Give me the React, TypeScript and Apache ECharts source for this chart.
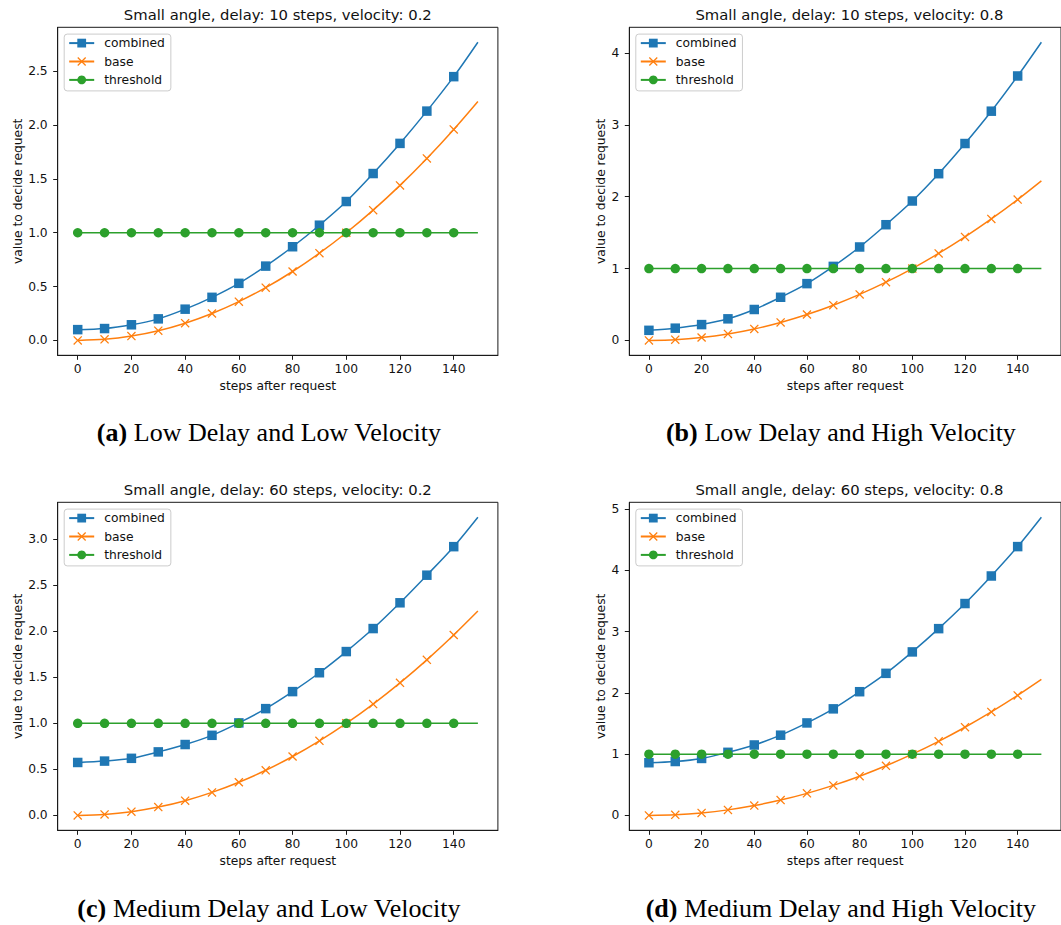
import React, { useEffect, useRef } from "react";
import * as echarts from "echarts";

// ---- data ----
const steps = [0, 10, 20, 30, 40, 50, 60, 70, 80, 90, 100, 110, 120, 130, 140, 149];
const xTicks = [0, 20, 40, 60, 80, 100, 120, 140];

const baseValues = [0, 0.01, 0.04, 0.09, 0.16, 0.25, 0.36, 0.49, 0.64, 0.81, 1.0, 1.21, 1.44, 1.69, 1.96, 2.22];
const thresholdValues = [1, 1, 1, 1, 1, 1, 1, 1, 1, 1, 1, 1, 1, 1, 1, 1];

const combinedA = [0.1, 0.11, 0.145, 0.2, 0.29, 0.4, 0.53, 0.69, 0.87, 1.07, 1.29, 1.55, 1.83, 2.13, 2.45, 2.77];
const combinedB = [0.14, 0.17, 0.22, 0.3, 0.43, 0.6, 0.79, 1.03, 1.3, 1.61, 1.94, 2.32, 2.74, 3.19, 3.68, 4.15];
const combinedC = [0.575, 0.59, 0.62, 0.69, 0.77, 0.87, 1.005, 1.16, 1.345, 1.55, 1.78, 2.03, 2.31, 2.61, 2.92, 3.24];
const combinedD = [0.86, 0.88, 0.93, 1.03, 1.15, 1.31, 1.51, 1.74, 2.02, 2.32, 2.67, 3.05, 3.46, 3.91, 4.39, 4.87];

const yTicksA = [0, 0.5, 1, 1.5, 2, 2.5];
const yTicksB = [0, 1, 2, 3, 4];
const yTicksC = [0, 0.5, 1, 1.5, 2, 2.5, 3];
const yTicksD = [0, 1, 2, 3, 4, 5];

const titles = [
  "Small angle, delay: 10 steps, velocity: 0.2",
  "Small angle, delay: 10 steps, velocity: 0.8",
  "Small angle, delay: 60 steps, velocity: 0.2",
  "Small angle, delay: 60 steps, velocity: 0.8",
];
const captionTags = ["(a)", "(b)", "(c)", "(d)"];
const captionTexts = [
  "Low Delay and Low Velocity",
  "Low Delay and High Velocity",
  "Medium Delay and Low Velocity",
  "Medium Delay and High Velocity",
];
const seriesNames = ["combined", "base", "threshold"];

// ---- styling / layout ----
const COLORS = ["#1f77b4", "#ff7f0e", "#2ca02c"];
const SANS = "DejaVu Sans";
const SERIF = "Liberation Serif";
const X_SYMBOL = "path://M0,1L1,0L5,4L9,0L10,1L6,5L10,9L9,10L5,6L1,10L0,9L4,5Z";
const TICK_FS = 12.3;
const TITLE_FS = 14.8;
const CAP_FS = 26;

const panels = [
  { combined: combinedA, yTicks: yTicksA, dec: 1, left: 57.7, top: 27.3, nameGap: 33 },
  { combined: combinedB, yTicks: yTicksB, dec: 0, left: 629.3, top: 27.3, nameGap: 22 },
  { combined: combinedC, yTicks: yTicksC, dec: 1, left: 57.7, top: 502.3, nameGap: 33 },
  { combined: combinedD, yTicks: yTicksD, dec: 0, left: 629.3, top: 502.3, nameGap: 22 },
];
const PW = 440.2;
const PH = 328;

function toData(values: number[]) {
  const last = steps.length - 1;
  return steps.map((x, i) =>
    i === last ? { value: [x, values[i]], symbol: "none" } : [x, values[i]]
  );
}

function buildOption() {
  const xMinD = Math.min(...steps);
  const xMaxD = Math.max(...steps);
  const xPad = (xMaxD - xMinD) * 0.05;

  const grid: any[] = [];
  const xAxis: any[] = [];
  const yAxis: any[] = [];
  const series: any[] = [];
  const legend: any[] = [];
  const graphic: any[] = [];

  panels.forEach((p, k) => {
    const allY = [...p.combined, ...baseValues, ...thresholdValues];
    const yMinD = Math.min(...allY);
    const yMaxD = Math.max(...allY);
    const yPad = (yMaxD - yMinD) * 0.05;

    grid.push({
      left: p.left,
      top: p.top,
      width: PW,
      height: PH,
      show: true,
      borderColor: "#1a1a1a",
      borderWidth: 1,
      backgroundColor: "transparent",
    });
    xAxis.push({
      type: "value",
      gridIndex: k,
      min: xMinD - xPad,
      max: xMaxD + xPad,
      name: "steps after request",
      nameLocation: "middle",
      nameGap: 25,
      nameTextStyle: { fontFamily: SANS, fontSize: TICK_FS, color: "#111" },
      axisLine: { show: true, onZero: false, lineStyle: { color: "#1a1a1a", width: 1 } },
      axisTick: { show: true, length: 4.5, customValues: xTicks, lineStyle: { color: "#1a1a1a" } },
      axisLabel: {
        customValues: xTicks,
        margin: 8,
        fontFamily: SANS,
        fontSize: TICK_FS,
        color: "#111",
        formatter: (v: number) => String(v),
      },
      splitLine: { show: false },
    });
    yAxis.push({
      type: "value",
      gridIndex: k,
      min: yMinD - yPad,
      max: yMaxD + yPad,
      name: "value to decide request",
      nameLocation: "middle",
      nameGap: p.nameGap,
      nameRotate: 90,
      nameTextStyle: { fontFamily: SANS, fontSize: TICK_FS, color: "#111" },
      axisLine: { show: true, onZero: false, lineStyle: { color: "#1a1a1a", width: 1 } },
      axisTick: { show: true, length: 4.5, customValues: p.yTicks, lineStyle: { color: "#1a1a1a" } },
      axisLabel: {
        customValues: p.yTicks,
        margin: 10,
        fontFamily: SANS,
        fontSize: TICK_FS,
        color: "#111",
        formatter: (v: number) => v.toFixed(p.dec),
      },
      splitLine: { show: false },
    });

    const common = {
      type: "line",
      xAxisIndex: k,
      yAxisIndex: k,
      smooth: 0.3,
      showSymbol: true,
      showAllSymbol: true,
      symbolSize: 9.5,
      clip: false,
    };
    series.push({
      ...common,
      name: seriesNames[0],
      symbol: "rect",
      data: toData(p.combined),
      lineStyle: { color: COLORS[0], width: 1.5 },
      itemStyle: { color: COLORS[0], borderWidth: 0 },
    });
    series.push({
      ...common,
      name: seriesNames[1],
      symbol: X_SYMBOL,
      symbolSize: 9,
      data: toData(baseValues),
      lineStyle: { color: COLORS[1], width: 1.5 },
      itemStyle: { color: COLORS[1], borderWidth: 0 },
    });
    series.push({
      ...common,
      name: seriesNames[2],
      symbol: "circle",
      smooth: false,
      data: toData(thresholdValues),
      lineStyle: { color: COLORS[2], width: 1.5 },
      itemStyle: { color: COLORS[2], borderWidth: 0 },
    });

    legend.push({
      data: seriesNames,
      orient: "vertical",
      left: p.left + 6.5,
      top: p.top + 6.8,
      itemWidth: 25,
      itemHeight: 11,
      itemGap: 6.4,
      padding: [3, 6, 5, 4],
      borderColor: "#cccccc",
      borderWidth: 1,
      borderRadius: 3,
      backgroundColor: "rgba(255,255,255,0.8)",
      selectedMode: false,
      textStyle: { fontFamily: SANS, fontSize: TICK_FS, color: "#111", padding: [0, 0, 0, 5] },
    });

    const cx = p.left + PW / 2;
    graphic.push({
      type: "text",
      x: cx,
      y: p.top - 12.5,
      style: {
        text: titles[k],
        fontFamily: SANS,
        fontSize: TITLE_FS,
        fill: "#111",
        align: "center",
        verticalAlign: "middle",
        textAlign: "center",
        textVerticalAlign: "middle",
      },
    });
    const capX = k % 2 === 0 ? 269 : 841;
    const capY = k < 2 ? 432 : 908;
    graphic.push({
      type: "text",
      x: capX,
      y: capY,
      style: {
        text: `{b|${captionTags[k]}} ${captionTexts[k]}`,
        fontFamily: SERIF,
        fontSize: CAP_FS,
        fill: "#000",
        align: "center",
        verticalAlign: "middle",
        textAlign: "center",
        textVerticalAlign: "middle",
        rich: {
          b: { fontFamily: SERIF, fontSize: CAP_FS, fontWeight: "bold", fill: "#000" },
        },
      },
    });
  });

  return {
    animation: false,
    backgroundColor: "#ffffff",
    grid,
    xAxis,
    yAxis,
    series,
    legend,
    graphic,
  };
}

export default function App() {
  const ref = useRef<HTMLDivElement>(null);
  useEffect(() => {
    if (!ref.current) return;
    const chart = echarts.init(ref.current, undefined, { renderer: "svg" });
    chart.setOption(buildOption() as any);
    return () => chart.dispose();
  }, []);
  return (
    <div
      ref={ref}
      style={{ position: "absolute", left: 0, top: 0, width: 1061, height: 925, background: "#fff" }}
    />
  );
}
